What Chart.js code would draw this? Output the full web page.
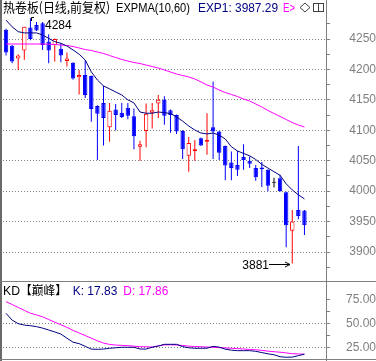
<!DOCTYPE html>
<html><head><meta charset="utf-8">
<script src="https://cdn.jsdelivr.net/npm/chart.js@4.4.0/dist/chart.umd.min.js"></script>
<style>
html,body{margin:0;padding:0;background:#fff;width:376px;height:361px;overflow:hidden;}
#wrap{position:relative;width:376px;height:361px;}
canvas{position:absolute;left:0;}
#c1{top:0;} #c2{top:282px;}
.ln{position:absolute;background:#808080;}
svg{position:absolute;left:0;top:0;}
</style></head><body>
<div id="wrap">
<canvas id="c1" width="376" height="282"></canvas>
<canvas id="c2" width="376" height="79"></canvas>
<div class="ln" style="left:0;top:0;width:2px;height:361px;background:#6a6a6a"></div>
<div class="ln" style="left:326px;top:0;width:1px;height:361px"></div>
<div class="ln" style="left:0;top:281px;width:376px;height:1px"></div>
<div class="ln" style="left:0;top:359px;width:376px;height:1px"></div>
<svg width="376" height="361" font-family="'Liberation Sans', Arial, sans-serif" font-size="12">
  <text x="3" y="12" textLength="107" lengthAdjust="spacingAndGlyphs" font-family="'Noto Sans CJK SC'" font-size="13">热卷板(日线,前复权)</text>
  <text x="116" y="12" textLength="74" lengthAdjust="spacingAndGlyphs">EXPMA(10,60)</text>
  <text id="t_exp1" x="198" y="12" textLength="80" lengthAdjust="spacingAndGlyphs" fill="#000080"></text>
  <text x="283" y="12" textLength="12" lengthAdjust="spacingAndGlyphs" fill="#ff00ff">E&gt;</text>
  <polygon points="305,3 310,7.5 305,12 300,7.5" fill="none" stroke="#404040" stroke-width="1"/>
  <rect x="313.5" y="3.5" width="10" height="8" fill="none" stroke="#404040" stroke-width="1"/>
  <line x1="318.5" y1="3.5" x2="318.5" y2="11.5" stroke="#404040" stroke-width="1"/>
  <text x="3" y="294.5" textLength="17" lengthAdjust="spacingAndGlyphs">KD</text>
  <text x="20" y="294.5" textLength="47" lengthAdjust="spacingAndGlyphs" font-family="'Noto Sans CJK SC'" font-size="12">【巅峰】</text>
  <text id="t_k" x="72.7" y="294.5" textLength="44.6" lengthAdjust="spacingAndGlyphs" fill="#000080"></text>
  <text id="t_d" x="123.3" y="294.5" textLength="45" lengthAdjust="spacingAndGlyphs" fill="#ff00ff"></text>
</svg>
</div>
<script>
const days = [0,1,2,3,4,5,6,7,8,9,10,11,12,13,14,15,16,17,18,19,20,21,22,23,24,25,26,27,28,29,30,31,32,33,34,35,36,37,38,39,40,41,42,43,44,45,46,47,48,49];
const opens  = [4265,4239,4218,4231,4269,4273,4276,4246,4240,4234,4214,4211,4187,4191,4189,4140,4145,4105,4134,4129,4137,4123,4073,4099,4129,4144,4150,4133,4125,4099,4058,4066,4087,4081,4105,4098,4074,4047,4043,4056,4050,4038,4039,4035,4014.5,4021,3998,3935,3969,3968];
const highs  = [4267,4240,4225,4270,4284,4278,4278,4258,4251,4243,4228,4212,4199,4215,4190,4141,4173,4145,4143,4145,4145,4136,4083,4144,4145,4158,4156,4134,4126,4100,4089,4084,4088,4128,4180,4099,4075,4065,4066,4077,4057,4043,4048,4036,4022,4027,3999,3969,4074,3969];
const lows   = [4223,4210,4199,4216,4248,4263,4232,4210,4213,4212,4205,4183,4159,4153,4114,4051,4075,4081,4100,4120,4118,4069,4050,4072,4103,4120,4109,4096,4094,4053,4032,4050,4074,4060,4053,4051,4018,4018,4025,4035,4038,4017,4007,4000,4006,3999,3908,3881,3954,3928];
const closes = [4228,4213,4223,4270,4250,4264,4240,4231,4250,4223,4218,4185,4191,4158,4135,4127,4120,4132,4125,4122,4124,4090,4077,4127,4133,4150,4124,4125,4098,4069,4079,4069,4075,4084,4098,4063,4042,4038,4035,4051,4045,4023,4036,4009,4014.5,4000,3944,3950,3959,3944];
const exp1 = [4281,4270,4262,4260,4260,4260,4256.6,4251,4245.6,4243,4238.5,4232,4225,4215.5,4196,4182.6,4173,4168,4163,4158,4150,4145,4130,4128,4128,4130,4129,4127.6,4122,4115,4107,4100.5,4095.5,4094,4095.5,4092,4085.7,4073,4066,4062,4058,4052,4044,4038,4032,4026,4012,4002,3994,3987.29];
const exp2 = [4241.8,4241.8,4241.8,4241.8,4241.8,4241.8,4241.8,4241.5,4241,4240.1,4239.3,4237.7,4235.2,4232.7,4231.1,4228.6,4226.2,4222.9,4219.6,4216.3,4213.8,4211.4,4209.7,4207.2,4204.8,4202.3,4199,4195.8,4192.5,4190,4187.6,4184.3,4179.4,4174.4,4171.1,4166.2,4162.1,4158.8,4155.5,4151.4,4148.1,4143.2,4138.3,4132.5,4127.6,4122.7,4117.7,4112.8,4108.7,4105.4];
const kLine = [60.4,53.3,49.6,48.1,47.5,46.5,45,43,41,38.8,34.5,30.3,28.8,26,23.1,22.9,23.2,24,24.5,25,25,25,23.2,23.2,25,26.3,28.1,28.1,28.1,25.7,24.5,24,24,24,26,25.2,23,22,21.5,21.5,21.5,20.8,19.5,18.2,17.2,15.2,14.6,14.8,16.3,17.83];
const dLine = [72.5,69.6,66.5,63.5,60.5,58.7,56.7,54,51.2,48.5,45.8,42.6,39.9,37.2,34.5,31.8,29.4,28,27.3,27,26.7,26.2,25.6,25.6,25.3,26.5,27.5,27.6,27.4,26.9,26.2,25.8,25.6,25.3,25,24.6,24.3,24,23.6,23.2,22.8,22.4,21.8,21,20.4,19.9,19.2,18.3,18.1,17.86];
const priceTicks = [3875,3900,3925,3950,3975,4000,4025,4050,4075,4100,4125,4150,4175,4200,4225,4250,4275];
const priceLabelTicks = [3900,3950,4000,4050,4100,4150,4200,4250];
const kdTicks = [25,37.5,50,62.5,75];
const kdLabelTicks = [25,50,75];
const kdGridTicks = [25,50];

const RED='#ff0000', BLUE='#0000ff', BLACK='#000000', NAVY='#000080', MAG='#ff00ff', GREY='#808080';
const dir = days.map(i => closes[i] > opens[i] ? 1 : (closes[i] < opens[i] ? -1 : 0));
const candleColor = dir.map(d => d > 0 ? RED : (d < 0 ? BLUE : BLACK));
const bodies = days.map(i => {
  const o = opens[i], c = closes[i];
  if (Math.abs(c - o) < 1.6) { const m = (o + c) / 2; return [m - 0.8, m + 0.8]; }
  return [o, c];
});
const wicks = days.map(i => [lows[i], highs[i]]);

document.getElementById('t_exp1').textContent = 'EXP1: ' + exp1[exp1.length-1].toFixed(2);
document.getElementById('t_k').textContent = 'K: ' + kLine[kLine.length-1].toFixed(2);
document.getElementById('t_d').textContent = 'D: ' + dLine[dLine.length-1].toFixed(2);

const FONT = "'Liberation Sans', Arial, sans-serif";
const xScale = {type:'linear', min:-0.5, max:52.54, offset:false, display:false};
function yAxis(min, max, ticks, labelTicks, gridTicks, pad, dec) {
  return {
    position:'right', min, max, offset:false,
    afterBuildTicks: s => { s.ticks = ticks.map(v => ({value:v})); },
    afterFit: s => { s.width = 50; s.paddingTop = 0; s.paddingBottom = 0; },
    ticks:{autoSkip:false, crossAlign:'far', padding:pad, color:GREY, font:{family:FONT, size:12},
      callback: v => labelTicks.includes(v) ? v.toFixed(dec) : ''},
    grid:{color: ctx => (ctx.tick && gridTicks.includes(ctx.tick.value)) ? GREY : 'rgba(0,0,0,0)',
      tickColor:GREY, tickLength:4, lineWidth:1, drawTicks:true},
    border:{display:false, dash:[1,2]}
  };
}

const annot = {
  id:'annot',
  afterDatasetsDraw(chart) {
    const ctx = chart.ctx, xs = chart.scales.x, ys = chart.scales.y;
    const hi = Math.max(...highs), hiI = highs.indexOf(hi);
    const lo = Math.min(...lows), loI = lows.indexOf(lo);
    ctx.save();
    ctx.fillStyle = BLACK; ctx.strokeStyle = BLACK; ctx.lineWidth = 1;
    ctx.font = '12px ' + FONT;
    const hx = Math.round(xs.getPixelForValue(hiI)), hy = Math.round(ys.getPixelForValue(hi));
    ctx.beginPath();
    ctx.moveTo(hx + 1.5, hy + 3); ctx.lineTo(hx + 1.5, hy - 0.5); ctx.lineTo(hx + 4, hy - 0.5);
    ctx.stroke();
    ctx.textAlign = 'left'; ctx.textBaseline = 'alphabetic';
    ctx.fillText(String(hi), hx + 15, hy + 11);
    const lx = Math.round(xs.getPixelForValue(loI)), ly = Math.round(ys.getPixelForValue(lo)) + 0.5;
    ctx.beginPath();
    ctx.moveTo(lx - 23, ly); ctx.lineTo(lx - 2, ly);
    ctx.moveTo(lx - 7, ly - 2.5); ctx.lineTo(lx - 2, ly); ctx.lineTo(lx - 7, ly + 2.5);
    ctx.stroke();
    ctx.textAlign = 'right';
    ctx.fillText(String(lo), lx - 23, ly + 4.5);
    ctx.restore();
  }
};

new Chart(document.getElementById('c1'), {
  type:'bar',
  data:{labels:days, datasets:[
    {type:'bar', data:wicks, backgroundColor:candleColor, borderWidth:0, grouped:false, maxBarThickness:1, order:3},
    {type:'bar', data:bodies, backgroundColor:dir.map(d => d > 0 ? '#ffffff' : (d < 0 ? BLUE : BLACK)),
      borderColor:candleColor, borderWidth:1, borderSkipped:false, grouped:false, maxBarThickness:5, order:2},
    {type:'line', data:exp2, borderColor:MAG, borderWidth:1, pointRadius:0, tension:0, order:1},
    {type:'line', data:exp1, borderColor:NAVY, borderWidth:1, pointRadius:0, tension:0, order:0}
  ]},
  options:{responsive:false, animation:false, devicePixelRatio:1, events:[],
    layout:{padding:{left:3, right:0, top:14, bottom:2}},
    plugins:{legend:{display:false}, tooltip:{enabled:false}},
    scales:{x:xScale, y:yAxis(3854.0, 4291.08, priceTicks, priceLabelTicks, priceLabelTicks, 16.3, 0)}
  },
  plugins:[annot]
});

new Chart(document.getElementById('c2'), {
  type:'line',
  data:{labels:days, datasets:[
    {data:dLine, borderColor:MAG, borderWidth:1, pointRadius:0, tension:0, order:1},
    {data:kLine, borderColor:NAVY, borderWidth:1, pointRadius:0, tension:0, order:0}
  ]},
  options:{responsive:false, animation:false, devicePixelRatio:1, events:[],
    layout:{padding:{left:3, right:0, top:1, bottom:3}},
    plugins:{legend:{display:false}, tooltip:{enabled:false}},
    scales:{x:xScale, y:yAxis(13.85, 91.98, kdTicks, kdLabelTicks, kdGridTicks, 13, 2)}
  }
});
</script>
</body></html>
